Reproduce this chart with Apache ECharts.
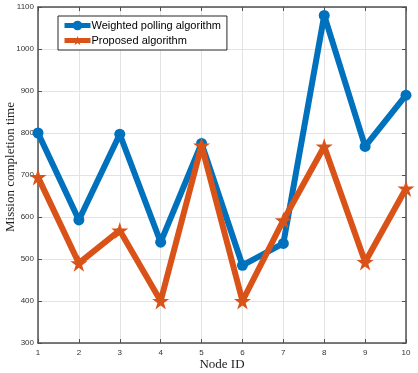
<!DOCTYPE html>
<html>
<head>
<meta charset="utf-8">
<script src="https://cdn.jsdelivr.net/npm/echarts@6/dist/echarts.min.js"></script>
<style>
html,body{margin:0;padding:0;background:#fff;}
#chart{width:418px;height:373px;}
</style>
</head>
<body>
<div id="chart"></div>
<script>
// node ids on x axis
var nodeIds = [1, 2, 3, 4, 5, 6, 7, 8, 9, 10];
// mission completion time for each algorithm
var weightedPolling = [800, 593, 797, 540, 775, 485, 537, 1080, 768, 890];
var proposed = [695, 490, 568, 400, 770, 400, 592, 768, 493, 668];

var seriesNames = ['Weighted polling algorithm', 'Proposed algorithm'];

var starPath = 'path://M50 0 L61.17 34.63 L97.55 34.55 L68.07 55.87 L79.39 90.45 L50 69 L20.61 90.45 L31.93 55.87 L2.45 34.55 L38.83 34.63 Z';

var axisColor = '#505050';
var gridColor = '#e3e3e3';

function pairs(vals) {
    return nodeIds.map(function (id, i) {
        return [id, vals[i]];
    });
}

var chart = echarts.init(document.getElementById('chart'));

// shared axis look, MATLAB style box with inner ticks
function boxAxis(extra) {
    var base = {
        type: 'value',
        axisLine: {show: true, onZero: false, lineStyle: {color: axisColor, width: 1.5}},
        axisTick: {show: true, inside: true, length: 4, lineStyle: {color: axisColor, width: 1}},
        axisLabel: {show: false},
        splitLine: {show: false}
    };
    return Object.assign(base, extra);
}

var tickFont = {fontFamily: 'Arial, "Liberation Sans"', fontSize: 8, color: '#333'};
var nameFont = {fontFamily: '"Times New Roman", "Liberation Serif", serif', fontSize: 13, color: '#222'};

var option = {
    animation: false,
    backgroundColor: '#fff',
    grid: {left: 38, right: 12, top: 7, bottom: 30, containLabel: false, outerBoundsMode: 'none'},
    legend: {
        orient: 'vertical',
        left: 58,
        top: 16,
        padding: [4, 6, 4, 4],
        itemGap: 4,
        itemWidth: 26,
        itemHeight: 12,
        backgroundColor: '#fff',
        borderColor: '#262626',
        borderWidth: 1,
        borderRadius: 0,
        lineStyle: {width: 5},
        textStyle: {fontFamily: 'Arial, "Liberation Sans"', fontSize: 11, color: '#000', padding: [0, 0, 0, -4]},
        data: seriesNames
    },
    xAxis: [
        boxAxis({
            min: 1, max: 10, interval: 1,
            name: 'Node ID',
            nameLocation: 'middle',
            nameGap: 15,
            nameMoveOverlap: false,
            nameTextStyle: nameFont,
            axisLabel: Object.assign({show: true, margin: 6}, tickFont),
            splitLine: {show: true, lineStyle: {color: gridColor, width: 1}}
        }),
        boxAxis({min: 1, max: 10, interval: 1, position: 'top'})
    ],
    yAxis: [
        boxAxis({
            min: 300, max: 1100, interval: 100,
            name: 'Mission completion time',
            nameLocation: 'middle',
            nameGap: 21,
            nameMoveOverlap: false,
            // nudge the title a little upward like the original
            nameTextStyle: Object.assign({padding: [0, 0, 0, 16]}, nameFont),
            axisLabel: Object.assign({show: true, margin: 4, formatter: function (v) { return String(v); }}, tickFont),
            splitLine: {show: true, lineStyle: {color: gridColor, width: 1}}
        }),
        boxAxis({min: 300, max: 1100, interval: 100, position: 'right'})
    ],
    series: [
        {
            name: seriesNames[0],
            type: 'line',
            data: pairs(weightedPolling),
            symbol: 'circle',
            symbolSize: 11,
            color: '#0072BD',
            lineStyle: {width: 6, color: '#0072BD'},
            itemStyle: {color: '#0072BD'},
            z: 3
        },
        {
            name: seriesNames[1],
            type: 'line',
            data: pairs(proposed),
            symbol: starPath,
            symbolSize: 17,
            color: '#D95319',
            lineStyle: {width: 6, color: '#D95319'},
            itemStyle: {color: '#D95319'},
            z: 4
        }
    ]
};

chart.setOption(option);
</script>
</body>
</html>
